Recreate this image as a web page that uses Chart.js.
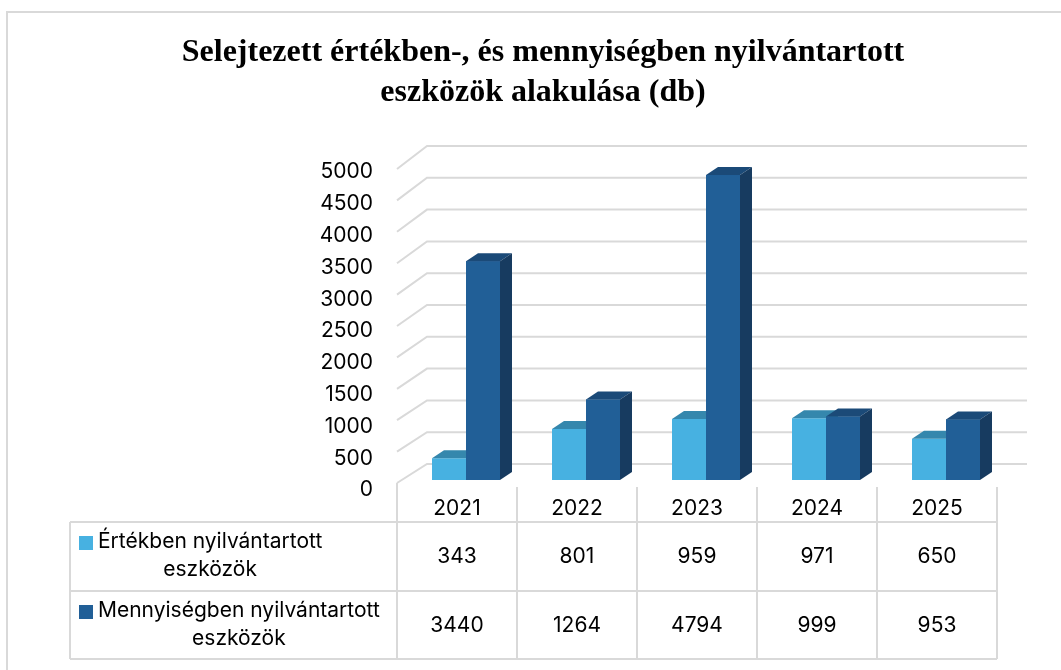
<!DOCTYPE html>
<html>
<head>
<meta charset="utf-8">
<script src="https://cdn.jsdelivr.net/npm/chart.js@4.4.1/dist/chart.umd.min.js"></script>
<style>
  html, body { margin: 0; padding: 0; background: #ffffff; }
  #wrap { width: 1061px; height: 670px; position: relative; }
</style>
</head>
<body>
<div id="wrap"><canvas id="c" width="1061" height="670"></canvas></div>
<script>
const categories = ['2021', '2022', '2023', '2024', '2025'];
const ertekbenValues = [343, 801, 959, 971, 650];
const mennyisegbenValues = [3440, 1264, 4794, 999, 953];
const seriesLabels = [['Értékben nyilvántartott', 'eszközök'], ['Mennyiségben nyilvántartott', 'eszközök']];
const titleLines = ['Selejtezett értékben-, és mennyiségben nyilvántartott', 'eszközök alakulása (db)'];
const yMin = 0, yMax = 5000, yStep = 500;

const FONT = 'Inter, "Open Sans", "Liberation Sans", Arial, sans-serif';
const FS = 21;
const GRID = '#d9d9d9';
const faces = [
  { front: '#47b1e1', top: '#3587ad', side: '#2c78a0' },
  { front: '#215f97', top: '#1b4a78', side: '#173b60' }
];
const DX = 12, DY = 8, SHIFT = 9;

function drawTopSide(ctx, el, f) {
  const l = el.x - el.width / 2, r = el.x + el.width / 2, t = el.y, b = el.base;
  ctx.fillStyle = f.top;
  ctx.beginPath();
  ctx.moveTo(l, t); ctx.lineTo(r, t); ctx.lineTo(r + DX, t - DY); ctx.lineTo(l + DX, t - DY);
  ctx.closePath(); ctx.fill();
  ctx.fillStyle = f.side;
  ctx.beginPath();
  ctx.moveTo(r, t); ctx.lineTo(r + DX, t - DY); ctx.lineTo(r + DX, b - DY); ctx.lineTo(r, b);
  ctx.closePath(); ctx.fill();
}

const gridPlugin = {
  id: 'grid3d',
  beforeDatasetsDraw(chart) {
    const ctx = chart.ctx, y = chart.scales.y, x = chart.scales.x;
    const left = x.left - SHIFT;
    const right = x.right - SHIFT;
    ctx.save();
    ctx.strokeStyle = GRID;
    ctx.lineWidth = 2;
    for (let v = yMin; v <= yMax; v += yStep) {
      const p = y.getPixelForValue(v);
      const fy = p + 3 + 4 * (v / yMax);
      const by = p - 16;
      ctx.beginPath();
      ctx.moveTo(left, fy);
      ctx.lineTo(left + 30, by);
      ctx.lineTo(right + 30, by);
      ctx.stroke();
    }
    ctx.restore();
  },
  afterDatasetsDraw(chart) {
    const ctx = chart.ctx;
    const m0 = chart.getDatasetMeta(0).data;
    const m1 = chart.getDatasetMeta(1).data;
    ctx.save();
    m0.forEach((el0, i) => {
      const el1 = m1[i];
      drawTopSide(ctx, el0, faces[0]);
      // re-draw the front face of the second bar so it covers the first bar's side
      ctx.fillStyle = faces[1].front;
      ctx.fillRect(el1.x - el1.width / 2, el1.y, el1.width, el1.base - el1.y);
      drawTopSide(ctx, el1, faces[1]);
    });
    ctx.restore();
  },
  afterDraw(chart) {
    const ctx = chart.ctx, x = chart.scales.x;
    const n = categories.length;
    const half = x.width / n / 2;
    const colL = x.left - SHIFT;
    const colR = x.right - SHIFT;
    const tableL = 70, r0 = 522, r1 = 591, r2 = 659;
    ctx.save();
    // frame
    ctx.strokeStyle = GRID; ctx.lineWidth = 2;
    ctx.beginPath();
    ctx.moveTo(7, 672); ctx.lineTo(7, 12); ctx.lineTo(1062, 12);
    ctx.stroke();
    // title
    ctx.fillStyle = '#000';
    ctx.font = 'bold 32px "Liberation Serif", "Times New Roman", serif';
    ctx.textAlign = 'center'; ctx.textBaseline = 'middle';
    ctx.fillText(titleLines[0], 543, 53);
    ctx.fillText(titleLines[1], 543, 93);
    // table lines
    ctx.strokeStyle = GRID; ctx.lineWidth = 2;
    ctx.beginPath();
    ctx.moveTo(colL, 483); ctx.lineTo(colL, r2);
    for (let i = 1; i <= n; i++) {
      const cx = colL + i * 2 * half;
      ctx.moveTo(cx, 487); ctx.lineTo(cx, r2);
    }
    [r0, r1, r2].forEach(ry => { ctx.moveTo(tableL, ry); ctx.lineTo(colR, ry); });
    ctx.moveTo(tableL, r0); ctx.lineTo(tableL, r2);
    ctx.stroke();
    // legend cells & values
    const rows = [r0, r1];
    const data = [ertekbenValues, mennyisegbenValues];
    ctx.font = FS + 'px ' + FONT;
    rows.forEach((rt, k) => {
      ctx.fillStyle = faces[k].front;
      ctx.fillRect(79, rt + 14, 14, 14);
      ctx.fillStyle = '#000';
      ctx.textAlign = 'left';
      ctx.fillText(seriesLabels[k][0], 98, rt + 20);
      const w1 = ctx.measureText(seriesLabels[k][0]).width;
      ctx.textAlign = 'center';
      ctx.fillText(seriesLabels[k][1], 98 + w1 / 2, rt + 48);
      data[k].forEach((v, i) => {
        const cx = x.getPixelForValue(i) - SHIFT;
        ctx.fillText(String(v), cx, rt + 35);
      });
    });
    ctx.restore();
  }
};

new Chart(document.getElementById('c'), {
  type: 'bar',
  data: {
    labels: categories,
    datasets: [
      { label: seriesLabels[0].join(' '), data: ertekbenValues, backgroundColor: faces[0].front, borderWidth: 0 },
      { label: seriesLabels[1].join(' '), data: mennyisegbenValues, backgroundColor: faces[1].front, borderWidth: 0 }
    ]
  },
  options: {
    responsive: false,
    animation: false,
    devicePixelRatio: 1,
    layout: { padding: { left: 0, right: 55, top: 162, bottom: 150 } },
    datasets: { bar: { categoryPercentage: 68 / 120, barPercentage: 1 } },
    plugins: { legend: { display: false }, title: { display: false }, tooltip: { enabled: false } },
    scales: {
      x: {
        grid: { display: false, drawTicks: false },
        border: { display: false },
        ticks: { color: '#000', font: { family: FONT, size: FS }, padding: 16, labelOffset: -SHIFT },
        afterFit(s) { s.height = 40; }
      },
      y: {
        min: yMin, max: yMax,
        grid: { display: false, drawTicks: false },
        border: { display: false },
        ticks: { stepSize: yStep, color: '#000', font: { family: FONT, size: FS }, padding: 33, labelOffset: 10,
                 callback: v => String(v) },
        afterFit(s) { s.width = 406; }
      }
    }
  },
  plugins: [gridPlugin]
});
</script>
</body>
</html>
